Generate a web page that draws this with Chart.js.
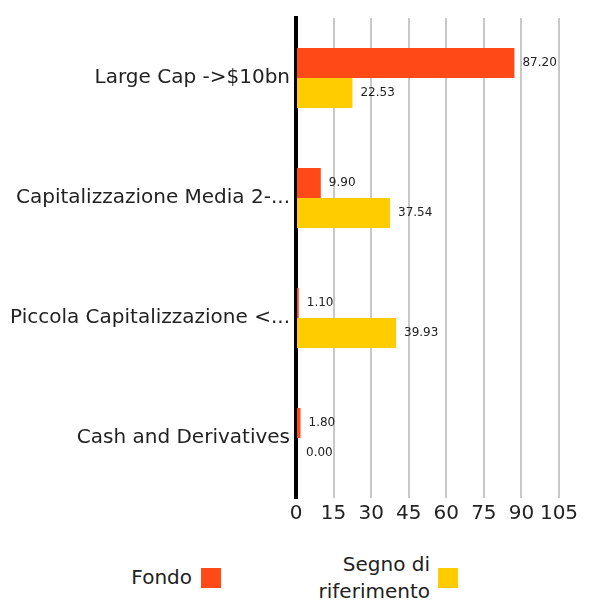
<!DOCTYPE html>
<html>
<head>
<meta charset="utf-8">
<script src="https://cdn.jsdelivr.net/npm/chart.js@4/dist/chart.umd.min.js"></script>
<style>
  html, body { margin: 0; padding: 0; background: #fff; }
  body { width: 593px; height: 603px; position: relative; overflow: hidden; font-family: "DejaVu Sans", sans-serif; color: #222; }
  #wrap { position: absolute; left: 0; top: 0; width: 593px; height: 540px; }
  .lg { position: absolute; font-size: 20px; line-height: 27px; color: #222; text-align: right; }
  .sw { position: absolute; width: 20px; height: 20px; }
</style>
</head>
<body>
<div id="wrap"><canvas id="c" width="593" height="540"></canvas></div>
<div class="lg" style="right: 401px; top: 564px;">Fondo</div>
<div class="sw" style="left: 201px; top: 568px; background: #FF4A17;"></div>
<div class="lg" style="right: 163px; top: 551px; width: 180px;">Segno di<br>riferimento</div>
<div class="sw" style="left: 438px; top: 568px; background: #FFCC00;"></div>
<script>
// Asset allocation by market cap: fund vs. benchmark, horizontal bars
const categories = [
  "Large Cap ->$10bn",
  "Capitalizzazione Media 2-...",
  "Piccola Capitalizzazione <...",
  "Cash and Derivatives",
];
const fondo = [87.20, 9.90, 1.10, 1.80];
const riferimento = [22.53, 37.54, 39.93, 0.00];
const xTicks = [0, 15, 30, 45, 60, 75, 90, 105];

const ORANGE = "#FF4A17";
const YELLOW = "#FFCC00";
const FONT = "'DejaVu Sans', sans-serif";

// value labels just past the end of each bar
const valueLabels = {
  id: "valueLabels",
  afterDatasetsDraw(chart) {
    const ctx = chart.ctx;
    ctx.save();
    ctx.font = "12px " + FONT;
    ctx.fillStyle = "#222";
    ctx.textAlign = "left";
    ctx.textBaseline = "middle";
    chart.data.datasets.forEach((ds, di) => {
      chart.getDatasetMeta(di).data.forEach((bar, i) => {
        const x = Math.max(bar.x, chart.chartArea.left + 2);
        ctx.fillText(ds.data[i].toFixed(2), x + 8, bar.y);
      });
    });
    ctx.restore();
  },
};

new Chart(document.getElementById("c"), {
  type: "bar",
  data: {
    labels: categories,
    datasets: [
      { label: "Fondo", data: fondo, backgroundColor: ORANGE },
      { label: "Segno di riferimento", data: riferimento, backgroundColor: YELLOW },
    ],
  },
  options: {
    indexAxis: "y",
    responsive: false,
    animation: false,
    devicePixelRatio: 1,
    categoryPercentage: 0.5,
    barPercentage: 1.0,
    layout: { padding: { top: 15, right: 34, bottom: 10, left: 0 } },
    plugins: { legend: { display: false }, tooltip: { enabled: false } },
    scales: {
      x: {
        min: 0,
        max: 105,
        afterBuildTicks: (s) => { s.ticks = xTicks.map((v) => ({ value: v })); },
        ticks: { color: "#222", font: { size: 20, family: FONT }, padding: 4, maxRotation: 0, autoSkip: false },
        grid: { color: "#c8c8c8", lineWidth: 2, drawTicks: false },
        border: { display: false },
      },
      y: {
        afterFit: (s) => { s.width = 296; },
        ticks: { color: "#222", font: { size: 20, family: FONT }, padding: 6 },
        grid: { display: false, drawTicks: false },
        border: { color: "#000", width: 4 },
      },
    },
  },
  plugins: [valueLabels],
});
</script>
</body>
</html>
